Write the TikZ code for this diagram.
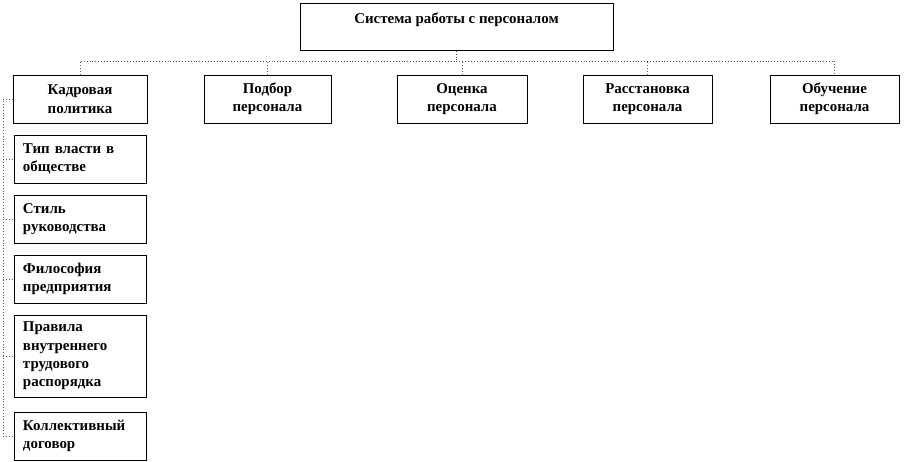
\documentclass[tikz,border=0pt]{standalone}
\usepackage{fontspec}
\setmainfont{Liberation Serif}
\usetikzlibrary{positioning}

\tikzset{
  box/.style={draw=black,line width=0.8pt,fill=white,font=\bfseries\fontsize{15}{18.5}\selectfont,align=center,inner sep=2pt},
  topbox/.style={box,minimum width=130bp,minimum height=48bp},
  subbox/.style={box,align=left,text width=114bp,inner xsep=9bp,minimum height=48bp},
  conn/.style={draw=black!65,dotted,line width=0.9pt}
}

\begin{document}
\begin{tikzpicture}[x=1bp,y=-1bp]
\fill[white] (0,0) rectangle (916,462);
\useasboundingbox (0,0) rectangle (916,462);

\node[box,minimum width=313bp,text height=10bp,text depth=17bp,inner ysep=10bp,anchor=north] (sys) at (456.5,3) {Система работы с персоналом};

\node[topbox,minimum width=134bp] (kadr) at (80,99) {Кадровая\\политика};
\node[topbox,minimum width=127bp] (podbor) at (267.5,99) {Подбор\\персонала};
\node[topbox] (ocenka) at (462,99) {Оценка\\персонала};
\node[topbox,minimum width=129bp] (rasst) at (647.5,99) {Расстановка\\персонала};
\node[topbox,minimum width=129bp] (obuch) at (834.5,99) {Обучение\\персонала};

\node[subbox,below=11.2bp of kadr] (tip) {Тип власти в\\обществе};
\node[subbox,below=11.2bp of tip] (stil) {Стиль\\руководства};
\node[subbox,below=11.2bp of stil] (filos) {Философия\\предприятия};
\node[subbox,below=11.2bp of filos,minimum height=82bp] (prav) {Правила\\внутреннего\\трудового\\распорядка};
\node[subbox,below=14.2bp of prav] (kollekt) {Коллективный\\договор};

\coordinate (bus) at (0,61);
\coordinate (spine) at (3,0);

\draw[conn] (sys.south) -- (sys.south |- bus);
\draw[conn] (kadr.north) |- (obuch.north |- bus) -- (obuch.north);
\foreach \n in {podbor,ocenka,rasst}
  \draw[conn] (\n.north) -- (\n.north |- bus);

\draw[conn] (kadr.west) -| (spine |- kollekt.west) -- (kollekt.west);
\foreach \n in {tip,stil,filos,prav}
  \draw[conn] (spine |- \n.west) -- (\n.west);

\end{tikzpicture}
\end{document}
